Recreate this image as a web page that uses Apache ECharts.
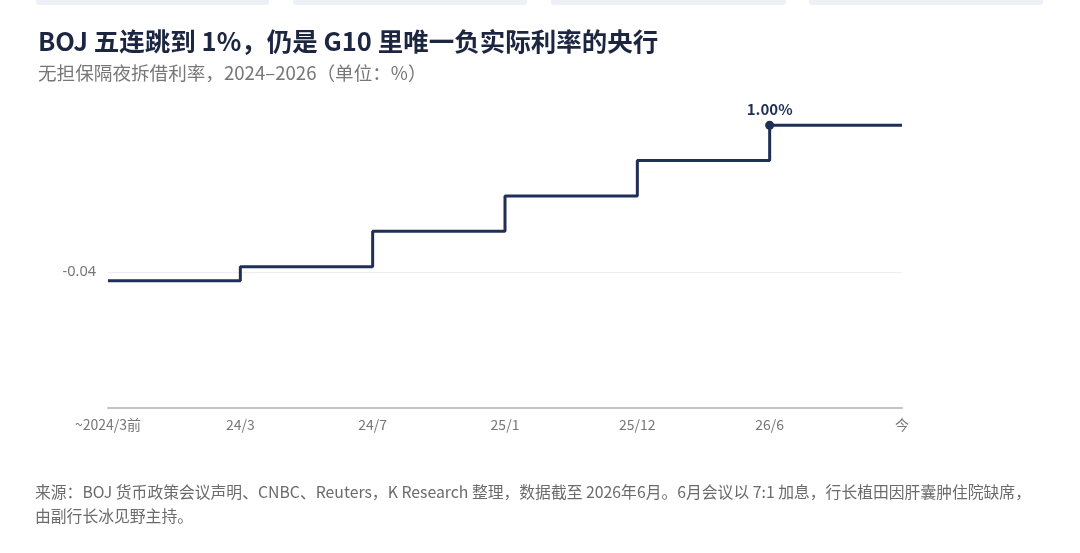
<!DOCTYPE html>
<html>
<head>
<meta charset="utf-8">
<script src="https://cdn.jsdelivr.net/npm/echarts@6/dist/echarts.min.js"></script>
<style>
  html, body { margin: 0; padding: 0; background: #ffffff; }
  #main { width: 1080px; height: 553px; }
</style>
</head>
<body>
<div id="main"></div>
<script>
var categories = ['~2024/3前', '24/3', '24/7', '25/1', '25/12', '26/6', '今'];
var rates = [-0.1, 0, 0.25, 0.5, 0.75, 1.0, 1.0];
var yTicks = [-0.04];
var highlightIndex = 5;
var highlightLabel = '1.00%';

var FONT = '"Noto Sans CJK SC", "Noto Sans", sans-serif';
var NAVY = '#1f2f55';

var chart = echarts.init(document.getElementById('main'));

// 数据点，只在 26/6 处画圆点和标注
var seriesData = rates.map(function (v, i) {
    if (i === highlightIndex) {
        return {
            value: v,
            symbol: 'circle',
            symbolSize: 9,
            label: {
                show: true,
                position: 'top',
                distance: 4,
                formatter: highlightLabel,
                color: NAVY,
                fontWeight: 'bold',
                fontSize: 15,
                fontFamily: FONT
            }
        };
    }
    return { value: v, symbol: 'none' };
});

var option = {
    backgroundColor: '#ffffff',
    animation: false,
    title: {
        text: 'BOJ 五连跳到 1%，仍是 G10 里唯一负实际利率的央行',
        subtext: '无担保隔夜拆借利率，2024–2026（单位：%）',
        left: 33,
        top: 24,
        itemGap: 9,
        textStyle: {
            color: '#1c2640',
            fontSize: 25.5,
            fontWeight: 'bold',
            fontFamily: FONT
        },
        subtextStyle: {
            color: '#777777',
            fontSize: 18.6,
            fontFamily: FONT
        }
    },
    grid: {
        left: 108,
        right: 178,
        top: 97,
        bottom: 145,
        containLabel: false
    },
    xAxis: {
        type: 'category',
        boundaryGap: false,
        data: categories,
        axisLine: { onZero: false, lineStyle: { color: '#c4c4c4', width: 2 } },
        axisTick: { show: false },
        axisLabel: {
            color: '#777777',
            fontSize: 14,
            margin: 10,
            fontFamily: FONT
        },
        splitLine: { show: false }
    },
    yAxis: {
        type: 'value',
        min: -1,
        max: 1.2,
        axisLine: { show: false },
        axisTick: { show: false, customValues: yTicks },
        axisLabel: {
            customValues: yTicks,
            color: '#777777',
            fontSize: 14.5,
            margin: 12,
            fontFamily: '"Noto Sans", sans-serif',
            formatter: function (v) { return v.toFixed(2); }
        },
        splitLine: { show: true, lineStyle: { color: '#eeeeee', width: 1 } }
    },
    series: [{
        type: 'line',
        step: 'end',
        data: seriesData,
        showSymbol: true,
        lineStyle: { color: NAVY, width: 3 },
        itemStyle: { color: NAVY },
        emphasis: { disabled: true },
        clip: false
    }],
    graphic: [
        { type: 'rect', shape: { x: 36, y: -6, width: 233, height: 11, r: 3 }, style: { fill: '#eef0f7' } },
        { type: 'rect', shape: { x: 293, y: -6, width: 234, height: 11, r: 3 }, style: { fill: '#eef0f7' } },
        { type: 'rect', shape: { x: 551, y: -6, width: 235, height: 11, r: 3 }, style: { fill: '#eef0f7' } },
        { type: 'rect', shape: { x: 809, y: -6, width: 234, height: 11, r: 3 }, style: { fill: '#eef0f7' } },
        {
            type: 'text', left: 35, top: 484,
            style: {
                text: '来源：BOJ 货币政策会议声明、CNBC、Reuters，K Research 整理，数据截至 2026年6月。6月会议以 7:1 加息，行长植田因肝囊肿住院缺席，',
                fill: '#6b6b6b', fontSize: 15.8, fontFamily: FONT
            }
        },
        {
            type: 'text', left: 35, top: 508,
            style: {
                text: '由副行长冰见野主持。',
                fill: '#6b6b6b', fontSize: 15.8, fontFamily: FONT
            }
        }
    ]
};

chart.setOption(option);

window.addEventListener('resize', function () {
    chart.resize();
});
</script>
</body>
</html>
